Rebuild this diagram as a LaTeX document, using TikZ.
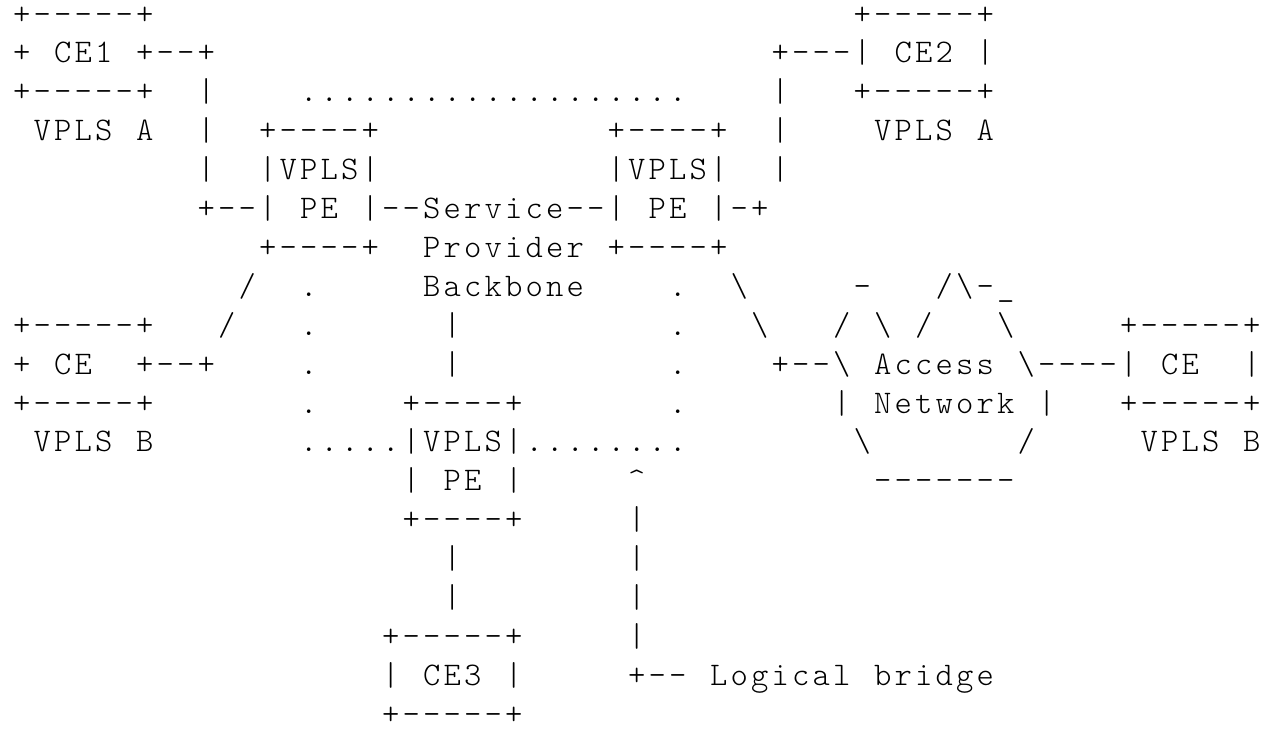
\documentclass[tikz,border=0pt]{standalone}
\usepackage{fontspec}
\newfontfamily\gridfont{Latin Modern Mono Light}

% Fixed-pitch character grid: every character sits centred in its own cell
\newlength\cellw
\setlength\cellw{20.5pt}
\def\cellsend{CELLSEND}
\def\cellrow#1{\cellstep#1\cellsend}
\def\cellstep#1{\ifx#1\cellsend\else\makebox[\cellw][c]{#1}\expandafter\cellstep\fi}
\newcommand\bsl{\textbackslash}
\newcommand\crt{\textasciicircum}

\tikzset{
  cellrun/.style={anchor=base west, inner sep=0pt, outer sep=0pt, text=black,
    font=\gridfont\fontsize{33}{38}\selectfont}
}
% \seg{name}{column}{line}{characters}
\newcommand\seg[4]{\node[cellrun] (#1) at ({11.45+20.5*(#2)},{24+38.9*(#3)}) {\cellrow{#4}};}

\begin{document}
\begin{tikzpicture}[x=1pt,y=-1pt]
\fill[white] (0,0) rectangle (1268,729);
\useasboundingbox (0,0) rectangle (1268,729);

% CE1 and CE2 (VPLS A)
\seg{ceAtop}{0}{0}{+-----+}
\seg{ceBtop}{41}{0}{+-----+}
\seg{ceAmid}{0}{1}{+~CE1~+--+}
\seg{ceBmid}{37}{1}{+---|~CE2~|}
\seg{ceAbot}{0}{2}{+-----+}
\seg{linkA2}{9}{2}{|}
\seg{bridgeTop}{14}{2}{...................}
\seg{linkB2}{37}{2}{|}
\seg{ceBbot}{41}{2}{+-----+}
\seg{vplsAl}{1}{3}{VPLS~A}
\seg{linkA3}{9}{3}{|}
\seg{peLtop}{12}{3}{+----+}
\seg{peRtop}{29}{3}{+----+}
\seg{linkB3}{37}{3}{|}
\seg{vplsAr}{42}{3}{VPLS~A}
\seg{linkA4}{9}{4}{|}
\seg{peLname}{12}{4}{|VPLS|}
\seg{peRname}{29}{4}{|VPLS|}
\seg{linkB4}{37}{4}{|}

% Backbone between the two upper PEs
\seg{backbone}{9}{5}{+--|~PE~|--Service--|~PE~|-+}
\seg{provider}{12}{6}{+----+~~Provider~+----+}

\seg{slashA}{11}{7}{/}
\seg{dotL7}{14}{7}{.}
\seg{backboneTxt}{20}{7}{Backbone}
\seg{dotR7}{32}{7}{.}
\seg{bslA}{35}{7}{\bsl}
\seg{cloudA}{41}{7}{-}
\seg{cloudB}{45}{7}{/\bsl-\_}

% CE (VPLS B), third PE and the access network
\seg{ceCtop}{0}{8}{+-----+}
\seg{slashB}{10}{8}{/}
\seg{dotL8}{14}{8}{.}
\seg{pipeM8}{21}{8}{|}
\seg{dotR8}{32}{8}{.}
\seg{bslB}{36}{8}{\bsl}
\seg{cloudC}{40}{8}{/~\bsl~/~~~\bsl}
\seg{ceDtop}{54}{8}{+-----+}

\seg{ceCmid}{0}{9}{+~CE~~+--+}
\seg{dotL9}{14}{9}{.}
\seg{pipeM9}{21}{9}{|}
\seg{dotR9}{32}{9}{.}
\seg{access}{37}{9}{+--\bsl~Access~\bsl----|~CE~~|}

\seg{ceCbot}{0}{10}{+-----+}
\seg{dotL10}{14}{10}{.}
\seg{peMtop}{19}{10}{+----+}
\seg{dotR10}{32}{10}{.}
\seg{network}{40}{10}{|~Network~|}
\seg{ceDbot}{54}{10}{+-----+}

\seg{vplsBl}{1}{11}{VPLS~B}
\seg{bridgeBot}{14}{11}{.....|VPLS|........}
\seg{cloudD}{41}{11}{\bsl}
\seg{cloudE}{49}{11}{/}
\seg{vplsBr}{55}{11}{VPLS~B}

\seg{peMname}{19}{12}{|~PE~|}
\seg{caret}{30}{12}{\crt}
\seg{cloudF}{42}{12}{-------}

\seg{peMbot}{19}{13}{+----+}
\seg{lead13}{30}{13}{|}
\seg{drop14}{21}{14}{|}
\seg{lead14}{30}{14}{|}
\seg{drop15}{21}{15}{|}
\seg{lead15}{30}{15}{|}

% CE3 and the logical bridge label
\seg{ceEtop}{18}{16}{+-----+}
\seg{lead16}{30}{16}{|}
\seg{ceEmid}{18}{17}{|~CE3~|}
\seg{label}{30}{17}{+--~Logical~bridge}
\seg{ceEbot}{18}{18}{+-----+}
\end{tikzpicture}
\end{document}
